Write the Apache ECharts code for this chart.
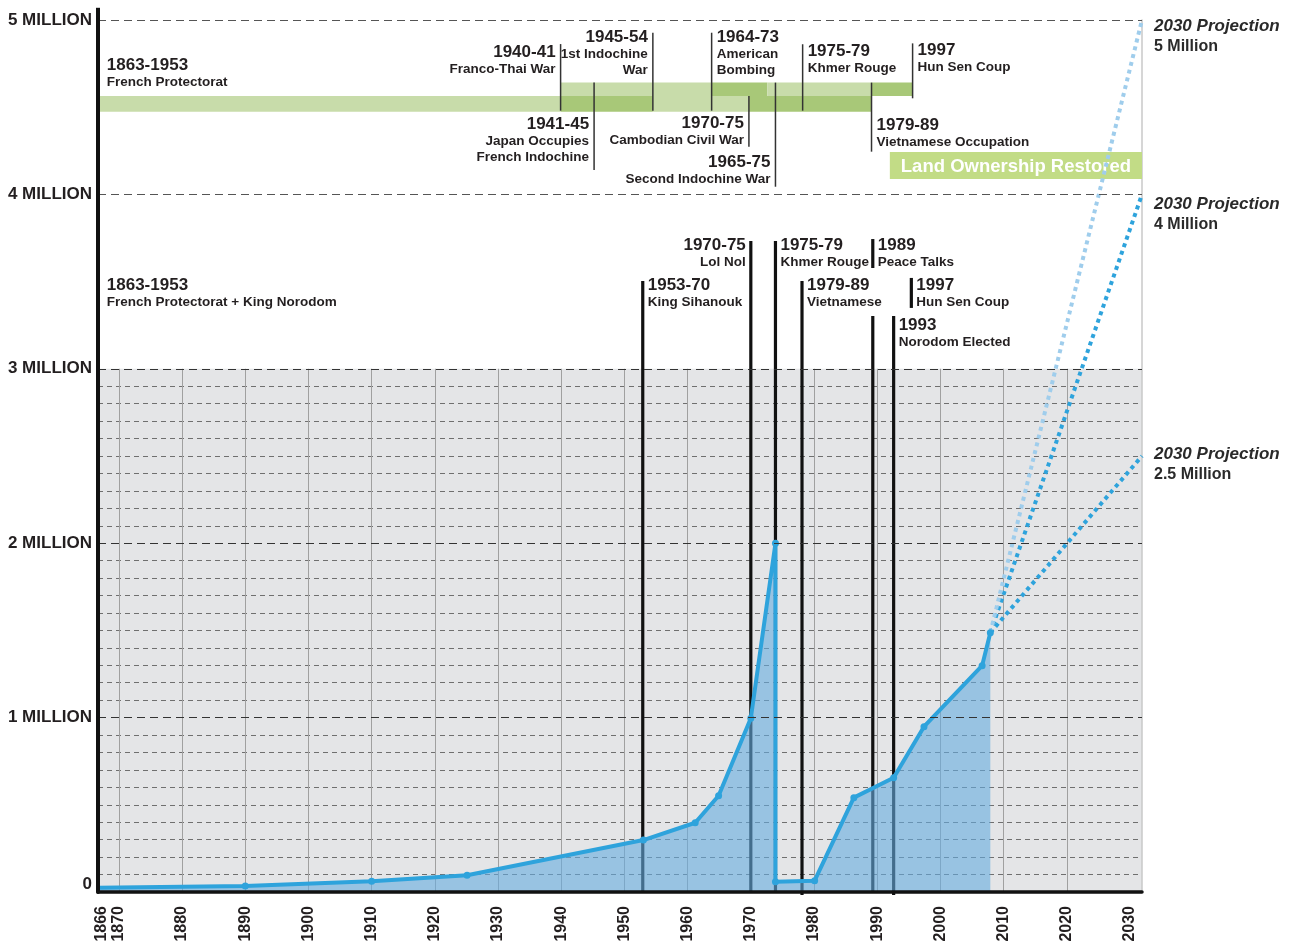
<!DOCTYPE html>
<html><head><meta charset="utf-8">
<script src="https://cdn.jsdelivr.net/npm/echarts@6/dist/echarts.min.js"></script>
<style>html,body{margin:0;padding:0;background:#fff}#c{width:1292px;height:947px}</style>
</head><body><div id="c"></div>
<script>
// ---------- data ----------
const X_MIN = 1866.7, X_MAX = 2031.9;           // plotted year range (edge labels 1866 / 2030)
const xTickYears = ['1866','1870','1880','1890','1900','1910','1920','1930','1940','1950','1960','1970','1980','1990','2000','2010','2020','2030'];
const gridYears = [1870,1880,1890,1900,1910,1920,1930,1940,1950,1960,1970,1980,1990,2000,2010,2020];
const yTickLabels = ['0','1 MILLION','2 MILLION','3 MILLION','4 MILLION','5 MILLION'];

// population (millions)
const mainYears  = [1866.7, 1890, 1910, 1925.1, 1953, 1961.2, 1964.9, 1970, 1973.9, 1973.9, 1980.1, 1986.3, 1992.6, 1997.4, 2006.6, 2007.9];
const mainValues = [0.025, 0.034, 0.061, 0.096, 0.298, 0.397, 0.552, 0.996, 2.0, 0.059, 0.065, 0.541, 0.655, 0.948, 1.298, 1.487];

const projStart = [2007.9, 1.487];
const projEndValues = [5, 4, 2.5];
const projTitles = ['2030 Projection', '2030 Projection', '2030 Projection'];
const projSubs = ['5 Million', '4 Million', '2.5 Million'];
const projLabelValues = [4.966, 3.945, 2.511];

// green timeline bars: [startYear, endYear, shade]
const barUpper = [[1939.9, 1963.8, 0], [1963.8, 1972.6, 1], [1972.6, 1989.1, 0], [1989.1, 1995.6, 1]];
const barLower = [[X_MIN, 1939.9, 0], [1939.9, 1954.5, 1], [1954.5, 1969.7, 0], [1969.7, 1989.1, 1]];
const barUpperRange = [4.564, 4.641];
const barLowerRange = [4.474, 4.564];
const landBox = {from: 1992.0, to: X_MAX, lo: 4.088, hi: 4.243, text: 'Land Ownership Restored'};

// timeline annotations
const upperEvents = [
  {year: 1867.3, ty: 4.742, align: 'left', title: '1863-1953', sub: ['French Protectorat']},
  {year: 1939.9, from: 4.480, to: 4.862, ty: 4.817, align: 'right', title: '1940-41', sub: ['Franco-Thai War']},
  {year: 1945.2, from: 4.140, to: 4.641, ty: 4.404, align: 'right', title: '1941-45', sub: ['Japan Occupies', 'French Indochine']},
  {year: 1954.5, from: 4.480, to: 4.927, ty: 4.903, align: 'right', title: '1945-54', sub: ['1st Indochine', 'War']},
  {year: 1963.8, from: 4.480, to: 4.927, ty: 4.903, align: 'left', title: '1964-73', sub: ['American', 'Bombing']},
  {year: 1969.7, from: 4.273, to: 4.564, ty: 4.409, align: 'right', title: '1970-75', sub: ['Cambodian Civil War']},
  {year: 1973.9, from: 4.044, to: 4.641, ty: 4.186, align: 'right', title: '1965-75', sub: ['Second Indochine War']},
  {year: 1978.2, from: 4.480, to: 4.861, ty: 4.822, align: 'left', title: '1975-79', sub: ['Khmer Rouge']},
  {year: 1989.1, from: 4.245, to: 4.641, ty: 4.398, align: 'left', title: '1979-89', sub: ['Vietnamese Occupation']},
  {year: 1995.6, from: 4.551, to: 4.866, ty: 4.828, align: 'left', title: '1997', sub: ['Hun Sen Coup']}
];
const lowerEvents = [
  {year: 1867.3, ty: 3.481, align: 'left', title: '1863-1953', sub: ['French Protectorat + King Norodom']},
  {year: 1952.9, from: 0, to: 3.503, ty: 3.481, align: 'left', title: '1953-70', sub: ['King Sihanouk']},
  {year: 1970.0, from: 0, to: 3.733, ty: 3.710, align: 'right', title: '1970-75', sub: ['Lol Nol']},
  {year: 1973.9, from: 0, to: 3.733, ty: 3.710, align: 'left', title: '1975-79', sub: ['Khmer Rouge']},
  {year: 1989.3, from: 3.578, to: 3.744, ty: 3.710, align: 'left', title: '1989', sub: ['Peace Talks']},
  {year: 1978.1, from: -0.017, to: 3.503, ty: 3.481, align: 'left', title: '1979-89', sub: ['Vietnamese']},
  {year: 1995.4, from: 3.349, to: 3.521, ty: 3.481, align: 'left', title: '1997', sub: ['Hun Sen Coup']},
  {year: 1992.6, from: -0.017, to: 3.303, ty: 3.251, align: 'left', title: '1993', sub: ['Norodom Elected']},
  {year: 1989.3, from: 0, to: 3.303}
];

// ---------- styles ----------
const FONT = '"Liberation Sans", Arial, Helvetica, sans-serif';
const TXT = '#231f20';
const BLUE = '#2ea3dc';
const projColors = ['#9fcdec', BLUE, BLUE];
const greens = ['#c8dcaa', '#a8c878'];

const xLabelPos = xTickYears.map(y => Math.min(Math.max(+y, X_MIN + 0.6), X_MAX - 0.6));

function textGroup(p, e) {
  const dx = e.align === 'left' ? 5 : -5;
  const children = [{
    type: 'text', x: p[0] + dx, y: p[1],
    style: {text: e.title, fill: TXT, fontSize: 17, fontWeight: 'bold', fontFamily: FONT, align: e.align, verticalAlign: 'middle'}
  }];
  (e.sub || []).forEach((s, k) => {
    children.push({
      type: 'text', x: p[0] + dx, y: p[1] + 17 + k * 16,
      style: {text: s, fill: TXT, fontSize: 13.5, fontWeight: 'bold', fontFamily: FONT, align: e.align, verticalAlign: 'middle'}
    });
  });
  return {type: 'group', children};
}

function lineSeries(list, stroke, width, z) {
  const items = list.filter(e => e.from !== undefined);
  return {
    type: 'custom', xAxisIndex: 0, yAxisIndex: 0, z, silent: true,
    data: items.map(e => [e.year, e.from, e.to]),
    renderItem: (params, api) => {
      const a = api.coord([api.value(0), api.value(1)]);
      const b = api.coord([api.value(0), api.value(2)]);
      return {type: 'line', shape: {x1: a[0], y1: a[1], x2: b[0], y2: b[1]}, style: {stroke, lineWidth: width}};
    }
  };
}

function textSeries(list, z) {
  const items = list.filter(e => e.title);
  return {
    type: 'custom', xAxisIndex: 0, yAxisIndex: 0, z, silent: true,
    data: items.map(e => [e.year, e.ty]),
    renderItem: (params, api) => textGroup(api.coord([api.value(0), api.value(1)]), items[params.dataIndex])
  };
}

const barData = barUpper.map(b => [b[0], b[1], barUpperRange[0], barUpperRange[1], b[2]])
  .concat(barLower.map(b => [b[0], b[1], barLowerRange[0], barLowerRange[1], b[2]]));

const series = [
  // green bars
  {
    type: 'custom', xAxisIndex: 0, yAxisIndex: 0, z: 1, silent: true,
    data: barData,
    renderItem: (params, api) => {
      const a = api.coord([api.value(0), api.value(3)]);
      const b = api.coord([api.value(1), api.value(2)]);
      return {type: 'rect', shape: {x: a[0], y: a[1], width: b[0] - a[0], height: b[1] - a[1]}, style: {fill: greens[api.value(4)]}};
    }
  },
  // land ownership box
  {
    type: 'custom', xAxisIndex: 0, yAxisIndex: 0, z: 1, silent: true,
    data: [[landBox.from, landBox.to, landBox.lo, landBox.hi]],
    renderItem: (params, api) => {
      const a = api.coord([api.value(0), api.value(3)]);
      const b = api.coord([api.value(1), api.value(2)]);
      return {type: 'group', children: [
        {type: 'rect', shape: {x: a[0], y: a[1], width: b[0] - a[0], height: b[1] - a[1]}, style: {fill: '#c2dc86'}},
        {type: 'text', x: (a[0] + b[0]) / 2, y: (a[1] + b[1]) / 2 + 1, style: {text: landBox.text, fill: '#fff', fontSize: 18.5, fontWeight: 'bold', fontFamily: FONT, align: 'center', verticalAlign: 'middle'}}
      ]};
    }
  },
  lineSeries(upperEvents, '#333', 1.5, 2),
  lineSeries(lowerEvents, '#111', 3.2, 1),
  // left axis extension above the top gridline
  lineSeries([{year: X_MIN, from: 4.9, to: 5.07}], '#111', 4, 5),
  // main population line
  {
    type: 'line', xAxisIndex: 0, yAxisIndex: 0, z: 3,
    data: mainYears.map((y, i) => i === 0 ? {value: [y, mainValues[i]], symbol: 'none'} : [y, mainValues[i]]),
    symbol: 'circle', symbolSize: 7,
    lineStyle: {color: BLUE, width: 4},
    itemStyle: {color: BLUE},
    areaStyle: {color: '#65abe0', opacity: 0.6},
    silent: true
  }
].concat(projEndValues.map((v, i) => ({
  type: 'line', xAxisIndex: 0, yAxisIndex: 0, z: 3 - i * 0.01, clip: false, silent: true,
  data: [projStart, [X_MAX, v]], symbol: 'none',
  lineStyle: {color: projColors[i], width: 4, type: [4, 4]}
}))).concat([
  textSeries(upperEvents, 4),
  textSeries(lowerEvents, 4),
  {
    type: 'custom', xAxisIndex: 0, yAxisIndex: 0, z: 4, silent: true,
    data: projLabelValues.map(v => [X_MAX, v]),
    renderItem: (params, api) => {
      const p = api.coord([api.value(0), api.value(1)]);
      const i = params.dataIndex;
      return {type: 'group', children: [
        {type: 'text', x: p[0] + 12, y: p[1], style: {text: projTitles[i], fill: '#2a2a2a', fontSize: 17, fontWeight: 'bold', fontStyle: 'italic', fontFamily: FONT, align: 'left', verticalAlign: 'middle'}},
        {type: 'text', x: p[0] + 12, y: p[1] + 21, style: {text: projSubs[i], fill: '#2a2a2a', fontSize: 16, fontWeight: 'bold', fontFamily: FONT, align: 'left', verticalAlign: 'middle'}}
      ]};
    }
  }
]);

const minorColors = [];
for (let i = 0; i <= 30; i++) minorColors.push(i % 10 === 0 ? 'rgba(0,0,0,0)' : '#6f6f6f');

const option = {
  animation: false,
  backgroundColor: '#fff',
  grid: [
    {left: 98, right: 150, top: 20, bottom: 55, containLabel: false},
    {left: 98, right: 150, top: 368.8, bottom: 55, show: true, backgroundColor: '#e4e5e7', borderWidth: 0}
  ],
  xAxis: [
    {
      type: 'value', gridIndex: 0, min: X_MIN, max: X_MAX, z: 5,
      axisLine: {show: true, onZero: false, lineStyle: {color: '#111', width: 3.5}},
      axisTick: {show: false},
      splitLine: {show: false},
      axisLabel: {
        customValues: xLabelPos,
        formatter: v => {
          let best = 0, d = 1e9;
          xLabelPos.forEach((p, i) => { if (Math.abs(p - v) < d) { d = Math.abs(p - v); best = i; } });
          return xTickYears[best];
        },
        rotate: 90, margin: 14, color: TXT, fontSize: 16, fontWeight: 'bold', fontFamily: FONT,
        showMinLabel: true, showMaxLabel: true
      }
    },
    {
      type: 'value', gridIndex: 1, min: X_MIN, max: X_MAX,
      axisLine: {show: false}, axisLabel: {show: false},
      axisTick: {show: false, customValues: gridYears},
      splitLine: {show: true, customValues: gridYears, lineStyle: {color: '#a0a0a0', width: 1}}
    }
  ],
  yAxis: [
    {
      type: 'value', gridIndex: 0, min: 0, max: 5, interval: 1, z: 5,
      axisLine: {show: true, lineStyle: {color: '#111', width: 4}},
      axisTick: {show: false},
      splitLine: {show: true, lineStyle: {color: ['rgba(0,0,0,0)', '#333', '#333', '#333', '#555', '#555'], width: 1.2, type: [8, 5]}},
      axisLabel: {
        margin: 6,
        formatter: v => v === 0 ? '{z|' + yTickLabels[0] + '}' : '{m|' + yTickLabels[v] + '}',
        rich: {
          z: {fontSize: 17, fontWeight: 'bold', color: TXT, fontFamily: FONT, padding: [0, 0, 16, 0]},
          m: {fontSize: 17, fontWeight: 'bold', color: TXT, fontFamily: FONT}
        }
      }
    },
    {
      type: 'value', gridIndex: 0, min: 0, max: 5, position: 'right',
      axisLine: {show: true, lineStyle: {color: '#c8c8c8', width: 1.5}},
      axisTick: {show: false}, axisLabel: {show: false}, splitLine: {show: false}
    },
    {
      type: 'value', gridIndex: 1, min: 0, max: 30, interval: 1,
      axisLine: {show: false}, axisTick: {show: false}, axisLabel: {show: false},
      splitLine: {show: true, lineStyle: {color: minorColors, width: 1, type: [5, 4]}}
    }
  ],
  series
};

const chart = echarts.init(document.getElementById('c'), null, {renderer: 'canvas'});
chart.setOption(option);
</script>
</body></html>
